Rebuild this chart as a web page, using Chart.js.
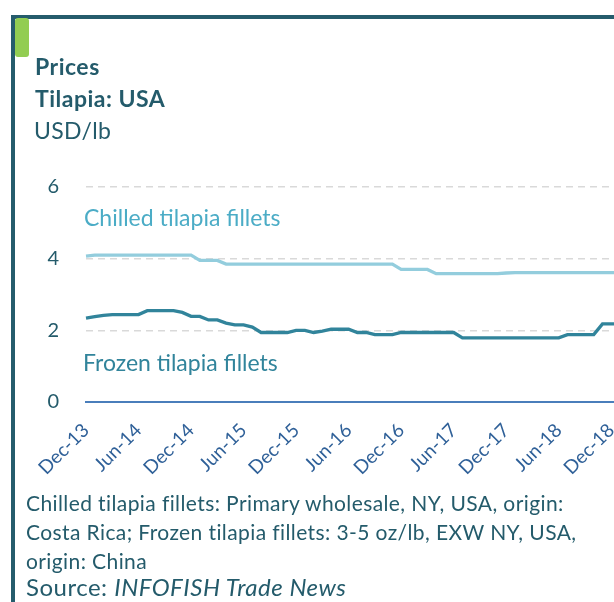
<!DOCTYPE html>
<html><head><meta charset="utf-8">
<script src="https://cdn.jsdelivr.net/npm/chart.js@4.4.1/dist/chart.umd.min.js"></script>
<style>
html,body{margin:0;padding:0;background:#fff;}
body{width:614px;height:602px;overflow:hidden;position:relative;font-family:Lato,"Open Sans",sans-serif;}
#wrap{position:absolute;left:0;top:0;width:640px;height:602px;}
#frameTop{position:absolute;left:11px;top:15px;width:640px;height:4px;background:#255C6C;}
#frameLeft{position:absolute;left:11px;top:15px;width:4px;height:600px;background:#255C6C;}
#tab{position:absolute;left:15px;top:18px;width:14px;height:39px;background:#92CD52;border-radius:3px;}
.t{position:absolute;white-space:nowrap;color:#245B6B;line-height:1;}
.b{font-weight:bold;}
</style></head><body>
<div id="wrap"><canvas id="c" width="640" height="602"></canvas></div>
<div id="frameTop"></div><div id="frameLeft"></div><div id="tab"></div>
<div class="t b" style="left:35px;top:55px;font-size:23px;letter-spacing:0.5px;">Prices</div>
<div class="t b" style="left:35px;top:87px;font-size:23px;letter-spacing:0.5px;">Tilapia: USA</div>
<div class="t" style="left:34px;top:119px;font-size:23px;letter-spacing:0.3px;">USD/lb</div>
<div class="t" style="left:84px;top:206px;font-size:23px;color:#4BACC6;">Chilled tilapia fillets</div>
<div class="t" style="left:83px;top:351px;font-size:23px;color:#31849B;">Frozen tilapia fillets</div>
<div class="t" style="left:26px;top:488px;font-size:21px;letter-spacing:0.4px;line-height:29px;">Chilled tilapia fillets: Primary wholesale, NY, USA, origin:<br>Costa Rica; Frozen tilapia fillets: 3-5 oz/lb, EXW NY, USA,<br>origin: China</div>
<div class="t" style="left:26px;top:575px;font-size:24px;letter-spacing:0.5px;">Source: <i>INFOFISH Trade News</i></div>
<script>
const months = ["Dec-13","Jan-14","Feb-14","Mar-14","Apr-14","May-14","Jun-14","Jul-14","Aug-14","Sep-14","Oct-14","Nov-14",
"Dec-14","Jan-15","Feb-15","Mar-15","Apr-15","May-15","Jun-15","Jul-15","Aug-15","Sep-15","Oct-15","Nov-15",
"Dec-15","Jan-16","Feb-16","Mar-16","Apr-16","May-16","Jun-16","Jul-16","Aug-16","Sep-16","Oct-16","Nov-16",
"Dec-16","Jan-17","Feb-17","Mar-17","Apr-17","May-17","Jun-17","Jul-17","Aug-17","Sep-17","Oct-17","Nov-17",
"Dec-17","Jan-18","Feb-18","Mar-18","Apr-18","May-18","Jun-18","Jul-18","Aug-18","Sep-18","Oct-18","Nov-18",
"Dec-18","Jan-19"];
const tickLabels = ["Dec-13","Jun-14","Dec-14","Jun-15","Dec-15","Jun-16","Dec-16","Jun-17","Dec-17","Jun-18","Dec-18"];
const chilled = [4.07,4.10,4.10,4.10,4.10,4.10,4.10,4.10,4.10,4.10,4.10,4.10,
4.10,3.95,3.95,3.95,3.85,3.85,3.85,3.85,3.85,3.85,3.85,3.85,
3.85,3.85,3.85,3.85,3.85,3.85,3.85,3.85,3.85,3.85,3.85,3.85,
3.70,3.70,3.70,3.70,3.58,3.58,3.58,3.58,3.58,3.58,3.58,3.58,
3.60,3.61,3.61,3.61,3.61,3.61,3.61,3.61,3.61,3.61,3.61,3.61,
3.61,3.61];
const frozen = [2.34,2.38,2.42,2.44,2.44,2.44,2.44,2.55,2.55,2.55,2.55,2.50,
2.39,2.39,2.29,2.29,2.20,2.15,2.15,2.09,1.94,1.94,1.94,1.94,
2.00,2.00,1.94,1.98,2.03,2.03,2.03,1.94,1.94,1.88,1.88,1.88,
1.94,1.94,1.94,1.94,1.94,1.94,1.94,1.79,1.79,1.79,1.79,1.79,
1.79,1.79,1.79,1.79,1.79,1.79,1.79,1.88,1.88,1.88,1.88,2.18,
2.18,2.18];
const yMin = 0, yMax = 6, yStep = 2;

new Chart(document.getElementById('c'), {
  type: 'line',
  data: {
    labels: months,
    datasets: [
      {label: 'Chilled tilapia fillets', data: chilled, borderColor: '#93CDDD', borderWidth: 3.3, pointRadius: 0, tension: 0, fill: false},
      {label: 'Frozen tilapia fillets', data: frozen, borderColor: '#31849B', borderWidth: 3.3, pointRadius: 0, tension: 0, fill: false}
    ]
  },
  options: {
    responsive: false, animation: false, devicePixelRatio: 1,
    layout: {padding: {top: 187, right: 20, bottom: 120, left: 0}},
    plugins: {legend: {display: false}, tooltip: {enabled: false}},
    scales: {
      x: {
        type: 'category', offset: false,
        grid: {display: false, drawTicks: false},
        border: {display: true, color: '#4A7EBB', width: 2},
        ticks: {autoSkip: false, minRotation: 45, maxRotation: 45, padding: 17, color: '#2F6098',
          font: {family: 'Lato', size: 19},
          callback: (v, i) => tickLabels.includes(months[i]) ? months[i] : ''},
        afterFit: s => { s.height = 80; s.paddingLeft = 0; s.paddingRight = 0; }
      },
      y: {
        min: yMin, max: yMax,
        ticks: {stepSize: yStep, padding: 27, color: '#245B6B', font: {family: 'Lato', size: 20}},
        grid: {color: c => c.tick.value === 0 ? 'rgba(0,0,0,0)' : '#D9D9D9', lineWidth: 1.5, drawTicks: false},
        border: {display: false, dash: [7, 5]},
        afterFit: s => { s.width = 86; }
      }
    }
  }
});
</script>
</body></html>
